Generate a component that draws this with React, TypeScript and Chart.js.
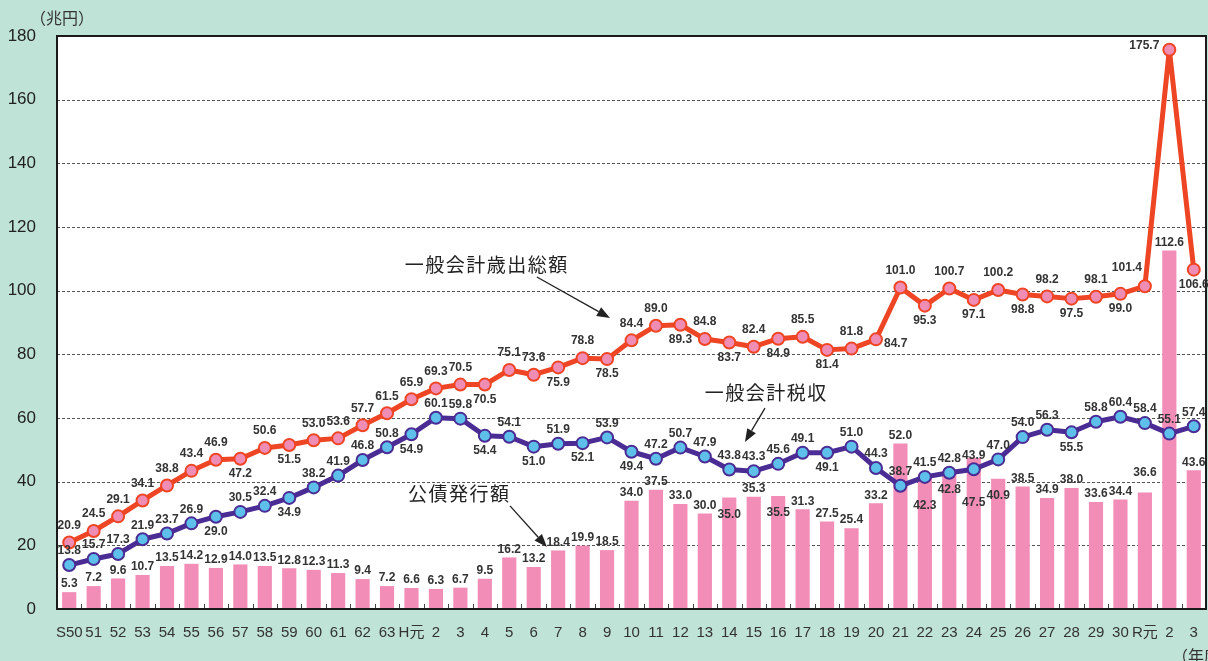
import React, { useEffect, useRef } from "react";
import { Chart, registerables } from "chart.js";
Chart.register(...registerables);

const categories = [
  "S50", "51", "52", "53", "54", "55", "56", "57", "58", "59", "60", "61", "62", "63",
  "H元", "2", "3", "4", "5", "6", "7", "8", "9", "10", "11", "12", "13", "14", "15", "16",
  "17", "18", "19", "20", "21", "22", "23", "24", "25", "26", "27", "28", "29", "30",
  "R元", "2", "3",
];

// 一般会計歳出総額 (兆円)
const expenditure = [
  20.9, 24.5, 29.1, 34.1, 38.8, 43.4, 46.9, 47.2, 50.6, 51.5, 53.0, 53.6, 57.7, 61.5,
  65.9, 69.3, 70.5, 70.5, 75.1, 73.6, 75.9, 78.8, 78.5, 84.4, 89.0, 89.3, 84.8, 83.7, 82.4, 84.9,
  85.5, 81.4, 81.8, 84.7, 101.0, 95.3, 100.7, 97.1, 100.2, 98.8, 98.2, 97.5, 98.1, 99.0,
  101.4, 175.7, 106.6,
];

// 一般会計税収 (兆円)
const taxRevenue = [
  13.8, 15.7, 17.3, 21.9, 23.7, 26.9, 29.0, 30.5, 32.4, 34.9, 38.2, 41.9, 46.8, 50.8,
  54.9, 60.1, 59.8, 54.4, 54.1, 51.0, 51.9, 52.1, 53.9, 49.4, 47.2, 50.7, 47.9, 43.8, 43.3, 45.6,
  49.1, 49.1, 51.0, 44.3, 38.7, 41.5, 42.8, 43.9, 47.0, 54.0, 56.3, 55.5, 58.8, 60.4,
  58.4, 55.1, 57.4,
];

// 公債発行額 (兆円)
const bondIssuance = [
  5.3, 7.2, 9.6, 10.7, 13.5, 14.2, 12.9, 14.0, 13.5, 12.8, 12.3, 11.3, 9.4, 7.2,
  6.6, 6.3, 6.7, 9.5, 16.2, 13.2, 18.4, 19.9, 18.5, 34.0, 37.5, 33.0, 30.0, 35.0, 35.3, 35.5,
  31.3, 27.5, 25.4, 33.2, 52.0, 42.3, 42.8, 47.5, 40.9, 38.5, 34.9, 38.0, 33.6, 34.4,
  36.6, 112.6, 43.6,
];

const yTicks = [0, 20, 40, 60, 80, 100, 120, 140, 160, 180];

// label placement codes (a = above, b = below, r/l = right/left, ul = upper-left, i = inside bar)
const expLabelPos = [
  "a", "a", "a", "a", "a", "a", "a", "b", "a", "b", "a", "a", "a", "a",
  "a", "a", "a", "b", "a", "a", "b", "a", "b", "a", "a", "b", "a", "b", "a", "b",
  "a", "b", "a", "r", "a", "b", "a", "b", "a", "b", "a", "b", "a", "b",
  "ul", "l", "b",
];
const taxLabelPos = [
  "a", "a", "a", "a", "a", "a", "b", "a", "a", "b", "a", "a", "a", "a",
  "b", "a", "a", "b", "a", "b", "a", "b", "a", "b", "a", "a", "a", "a", "a", "a",
  "a", "b", "a", "a", "a", "a", "a", "a", "a", "a", "a", "b", "a", "a",
  "a", "a", "a",
];
const bondLabelPos = [
  "a", "a", "a", "a", "a", "a", "a", "a", "a", "a", "a", "a", "a", "a",
  "a", "a", "a", "a", "a", "a", "a", "a", "a", "a", "a", "a", "a", "i", "a", "i",
  "a", "a", "a", "a", "a", "i2", "i", "i3", "i", "a", "a", "a", "a", "a",
  "A", "a", "a",
];

// series annotations: text anchor and arrow in data coordinates (category index, value)
const annotations = [
  { text: "一般会計歳出総額", x: 13.72, y: 108.0, from: [19.13, 104.3], to: [22.12, 91.4] },
  { text: "一般会計税収", x: 26.0, y: 67.9, from: [28.46, 63.1], to: [27.64, 52.5] },
  { text: "公債発行額", x: 13.86, y: 36.2, from: [18.03, 32.4], to: [19.54, 19.5] },
];

const LATIN = "'Liberation Sans', Arial, 'Noto Sans CJK JP', sans-serif";
const CJK = "'Noto Sans CJK JP', 'Liberation Sans', sans-serif";

const decorPlugin = {
  id: "decor",
  beforeDatasetsDraw(chart: any) {
    const { ctx, chartArea: a, scales } = chart;
    const y = scales.y;
    ctx.save();
    ctx.fillStyle = "#ffffff";
    ctx.fillRect(a.left, a.top, a.right - a.left, a.bottom - a.top);
    ctx.strokeStyle = "#555";
    ctx.lineWidth = 1;
    ctx.setLineDash([3, 2]);
    for (const v of yTicks) {
      if (v === 0 || v === 180) continue;
      const py = Math.round(y.getPixelForValue(v)) + 0.5;
      ctx.beginPath();
      ctx.moveTo(a.left, py);
      ctx.lineTo(a.right, py);
      ctx.stroke();
    }
    ctx.restore();
  },
  afterDatasetsDraw(chart: any) {
    const { ctx, chartArea: a, scales } = chart;
    const x = scales.x;
    const y = scales.y;
    ctx.save();
    // category tick marks on x axis
    const half = (x.getPixelForValue(1) - x.getPixelForValue(0)) / 2;
    ctx.strokeStyle = "#444";
    ctx.lineWidth = 1;
    for (let i = 1; i < categories.length; i++) {
      const px = Math.round(x.getPixelForValue(i) - half) + 0.5;
      ctx.beginPath();
      ctx.moveTo(px, a.bottom);
      ctx.lineTo(px, a.bottom - 5);
      ctx.stroke();
    }
    // border
    ctx.strokeStyle = "#1a1a1a";
    ctx.lineWidth = 2;
    ctx.strokeRect(a.left, a.top, a.right - a.left, a.bottom - a.top);

    // data labels
    ctx.fillStyle = "#333";
    ctx.font = `bold 12px ${LATIN}`;
    const drawLine = (dsIndex: number, values: number[], pos: string[], aboveDy: number) => {
      const meta = chart.getDatasetMeta(dsIndex);
      meta.data.forEach((el: any, i: number) => {
        const t = values[i].toFixed(1);
        const p = pos[i];
        let tx = el.x, ty = el.y, align: CanvasTextAlign = "center";
        if (p === "a") ty = el.y + aboveDy;
        else if (p === "b") ty = el.y + 15;
        else if (p === "r") { tx = el.x + 8; ty = el.y + 4; align = "left"; }
        else if (p === "l") { tx = el.x - 10; ty = el.y - 4; align = "right"; }
        else if (p === "ul") { tx = el.x - 3; ty = el.y - 19; align = "right"; }
        ctx.textAlign = align;
        ctx.textBaseline = "middle";
        ctx.fillText(t, tx, ty);
      });
    };
    const barMeta = chart.getDatasetMeta(2);
    const barOff: Record<string, number> = { a: -8, A: -20, i: 17, i2: 31, i3: 45 };
    barMeta.data.forEach((el: any, i: number) => {
      ctx.textAlign = "center";
      ctx.textBaseline = "middle";
      ctx.fillText(bondIssuance[i].toFixed(1), el.x, el.y + barOff[bondLabelPos[i]]);
    });
    drawLine(0, expenditure, expLabelPos, -17);
    drawLine(1, taxRevenue, taxLabelPos, -14);

    // annotations
    ctx.font = `19px ${CJK}`;
    try { (ctx as any).letterSpacing = "1.5px"; } catch (e) { /* ignore */ }
    ctx.textAlign = "left";
    ctx.textBaseline = "middle";
    ctx.fillStyle = "#222";
    ctx.strokeStyle = "#222";
    ctx.lineWidth = 1.3;
    for (const an of annotations) {
      ctx.fillText(an.text, x.getPixelForValue(an.x), y.getPixelForValue(an.y));
      const x1 = x.getPixelForValue(an.from[0]);
      const y1 = y.getPixelForValue(an.from[1]);
      const x2 = x.getPixelForValue(an.to[0]);
      const y2 = y.getPixelForValue(an.to[1]);
      const ang = Math.atan2(y2 - y1, x2 - x1);
      const hl = 13, hw = 5;
      const bx = x2 - hl * Math.cos(ang), by = y2 - hl * Math.sin(ang);
      ctx.beginPath();
      ctx.moveTo(x1, y1);
      ctx.lineTo(bx, by);
      ctx.stroke();
      ctx.beginPath();
      ctx.moveTo(x2, y2);
      ctx.lineTo(bx + hw * Math.sin(ang), by - hw * Math.cos(ang));
      ctx.lineTo(bx - hw * Math.sin(ang), by + hw * Math.cos(ang));
      ctx.closePath();
      ctx.fill();
    }
    try { (ctx as any).letterSpacing = "0px"; } catch (e) { /* ignore */ }
    ctx.restore();
  },
  afterDraw(chart: any) {
    const { ctx } = chart;
    ctx.save();
    ctx.fillStyle = "#333";
    ctx.font = `16px ${CJK}`;
    ctx.textAlign = "left";
    ctx.textBaseline = "middle";
    ctx.fillText("（兆円）", 30, 18);
    ctx.fillText("（年度）", 1172, 656);
    ctx.restore();
  },
};

export default function App() {
  const ref = useRef<HTMLCanvasElement | null>(null);
  useEffect(() => {
    if (!ref.current) return;
    const chart = new Chart(ref.current, {
      type: "bar",
      data: {
        labels: categories,
        datasets: [
          {
            type: "line",
            label: "一般会計歳出総額",
            data: expenditure,
            borderColor: "#ee4524",
            borderWidth: 5,
            borderJoinStyle: "round",
            pointRadius: 6,
            pointBackgroundColor: "#f08db5",
            pointBorderColor: "#ee4524",
            pointBorderWidth: 2,
            tension: 0,
            clip: false,
            order: 1,
          } as any,
          {
            type: "line",
            label: "一般会計税収",
            data: taxRevenue,
            borderColor: "#4a2c94",
            borderWidth: 5,
            borderJoinStyle: "round",
            pointRadius: 6,
            pointBackgroundColor: "#5dbfea",
            pointBorderColor: "#4a2c94",
            pointBorderWidth: 2,
            tension: 0,
            clip: false,
            order: 2,
          } as any,
          {
            type: "bar",
            label: "公債発行額",
            data: bondIssuance,
            backgroundColor: "#f28db8",
            barPercentage: 0.58,
            categoryPercentage: 1,
            order: 3,
          } as any,
        ],
      },
      options: {
        animation: false,
        responsive: false,
        layout: { autoPadding: false, padding: { top: 36, right: 2, left: 0, bottom: 0 } },
        plugins: { legend: { display: false }, tooltip: { enabled: false } },
        scales: {
          x: {
            grid: { display: false, drawTicks: false },
            border: { display: false },
            ticks: {
              autoSkip: false,
              maxRotation: 0,
              minRotation: 0,
              color: "#333",
              font: { size: 15, family: LATIN },
              padding: 15,
            },
            afterFit(s: any) {
              s.height = 52;
              s.paddingLeft = 0;
              s.paddingRight = 0;
            },
          },
          y: {
            min: 0,
            max: 180,
            grid: { display: false, drawTicks: false },
            border: { display: false },
            ticks: {
              stepSize: 20,
              color: "#222",
              font: { size: 17, family: LATIN },
              padding: 21,
            },
            afterFit(s: any) {
              s.width = 57;
              s.paddingTop = 0;
              s.paddingBottom = 0;
            },
          },
        },
      } as any,
      plugins: [decorPlugin],
    });
    return () => chart.destroy();
  }, []);
  return (
    <div style={{ position: "fixed", left: 0, top: 0, width: 1208, height: 661, background: "#c0e3d7" }}>
      <canvas ref={ref} width={1208} height={661} style={{ display: "block" }} />
    </div>
  );
}
